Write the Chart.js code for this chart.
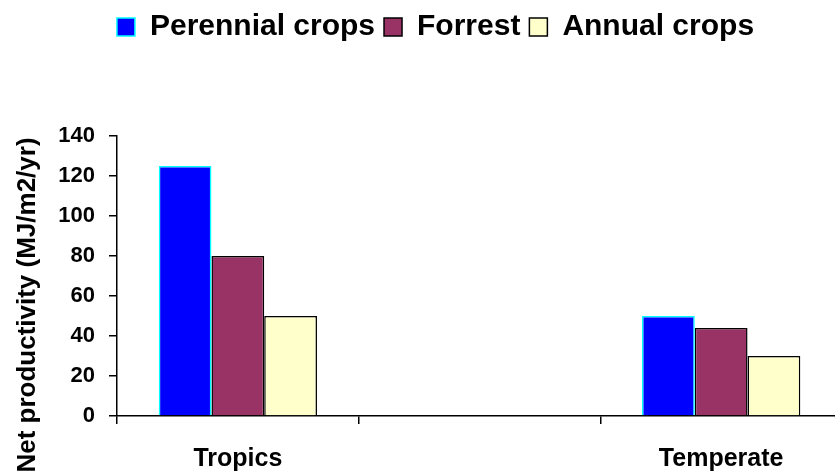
<!DOCTYPE html>
<html><head><meta charset="utf-8">
<script src="https://cdn.jsdelivr.net/npm/chart.js@4.4.0/dist/chart.umd.min.js"></script>
<style>html,body{margin:0;padding:0;background:#fff;overflow:hidden;}
#wrap{width:845px;height:474px;position:relative;}</style>
</head><body><div id="wrap"><canvas id="c"></canvas></div>
<script>
const categories = ["Tropics", "", "Temperate"];
const seriesNames = ["Perennial crops", "Forrest", "Annual crops"];
const perennial = [125, null, 50];
const forrest = [80, null, 44];
const annual = [50, null, 30];
const yTicks = [0, 20, 40, 60, 80, 100, 120, 140];
const yTitle = "Net productivity (MJ/m2/yr)";

const FONT = '"Liberation Sans", Arial, sans-serif';

const legendGap = {
  id: 'legendGap',
  beforeInit(chart) {
    const fit = chart.legend.fit;
    chart.legend.fit = function () { fit.bind(chart.legend)(); this.height += 84; };
  }
};
const yTitlePlugin = {
  id: 'yTitlePlugin',
  afterDraw(chart) {
    const ctx = chart.ctx, ca = chart.chartArea;
    ctx.save();
    ctx.font = 'bold 26px ' + FONT;
    ctx.fillStyle = '#000';
    ctx.translate(35, (ca.top + chart.height) / 2);
    ctx.rotate(-Math.PI / 2);
    ctx.textAlign = 'center';
    ctx.textBaseline = 'alphabetic';
    ctx.fillText(yTitle, 0, 0);
    ctx.restore();
  }
};

new Chart(document.getElementById('c'), {
  type: 'bar',
  data: {
    labels: categories,
    datasets: [
      { label: seriesNames[0], data: perennial, backgroundColor: '#0000FF', borderColor: '#00FFFF', borderWidth: 1.5 },
      { label: seriesNames[1], data: forrest, backgroundColor: '#993366', borderColor: '#000000', borderWidth: 1.5 },
      { label: seriesNames[2], data: annual, backgroundColor: '#FFFFCC', borderColor: '#000000', borderWidth: 1.5 }
    ]
  },
  options: {
    responsive: true,
    maintainAspectRatio: false,
    animation: false,
    events: [],
    layout: { padding: { left: 29, right: 3, top: 3, bottom: 0 } },
    datasets: { bar: { categoryPercentage: 0.655, barPercentage: 1.0 } },
    plugins: {
      legend: {
        position: 'top',
        labels: {
          boxWidth: 18, boxHeight: 18, padding: 9, color: '#000',
          font: { family: FONT, size: 30, weight: 'bold' }
        }
      },
      tooltip: { enabled: false }
    },
    scales: {
      x: {
        afterFit: (scale) => { scale.height = 58; },
        grid: { display: true, drawOnChartArea: false, drawTicks: true, tickLength: 8, color: '#000', lineWidth: 1.5, offset: true },
        border: { display: true, color: '#000', width: 1.5 },
        ticks: { color: '#000', padding: 20, font: { family: FONT, size: 25, weight: 'bold' }, maxRotation: 0 }
      },
      y: {
        min: 0, max: 140,
        afterBuildTicks: (scale) => { scale.ticks = yTicks.map(v => ({ value: v })); },
        afterFit: (scale) => { scale.width = 88; },
        grid: { display: true, drawOnChartArea: false, drawTicks: true, tickLength: 8, color: '#000', lineWidth: 1.5 },
        border: { display: true, color: '#000', width: 1.5 },
        ticks: { color: '#000', padding: 14, font: { family: FONT, size: 22, weight: 'bold' } }
      }
    }
  },
  plugins: [legendGap, yTitlePlugin]
});
</script></body></html>
